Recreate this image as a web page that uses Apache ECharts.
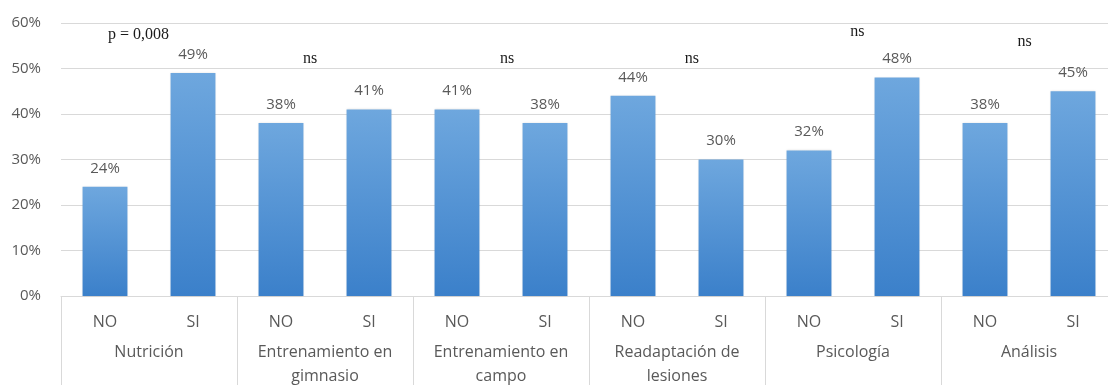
<!DOCTYPE html>
<html>
<head>
<meta charset="utf-8">
<script src="https://cdn.jsdelivr.net/npm/echarts@6/dist/echarts.min.js"></script>
<style>
  html, body { margin: 0; padding: 0; background: #fff; }
  #chart { width: 1108px; height: 385px; }
</style>
</head>
<body>
<div id="chart"></div>
<script>
// Answer per bar (NO / SI) and the area each pair belongs to
const answers = ['NO', 'SI', 'NO', 'SI', 'NO', 'SI', 'NO', 'SI', 'NO', 'SI', 'NO', 'SI'];
const areas = ['Nutrición', 'Entrenamiento en\ngimnasio', 'Entrenamiento en\ncampo',
               'Readaptación de\nlesiones', 'Psicología', 'Análisis'];
// Percentage of respondents for each bar
const percentages = [24, 49, 38, 41, 41, 38, 44, 30, 32, 48, 38, 45];
// Y-axis range (percent)
const yMin = 0, yMax = 60, yStep = 10;
// Significance notes: [text, position in bar slots from the left, height in percent]
const notes = [
  ['p = 0,008', 0.88, 57.4],
  ['ns', 2.83, 52.1],
  ['ns', 5.07, 52.1],
  ['ns', 7.17, 52.1],
  ['ns', 9.05, 58.0],
  ['ns', 10.95, 55.8]
];

const gray = '#595959';
const sans = '"Open Sans", "Noto Sans", sans-serif';
const gridLeft = 61, gridTop = 23, gridWidth = 1056, gridHeight = 273;

const chart = echarts.init(document.getElementById('chart'), null, { renderer: 'canvas' });

chart.setOption({
  animation: false,
  backgroundColor: '#ffffff',
  grid: {
    left: gridLeft, top: gridTop, width: gridWidth, height: gridHeight,
    containLabel: false, outerBoundsMode: 'none'
  },
  xAxis: [
    {
      type: 'category',
      data: answers,
      position: 'bottom',
      axisLine: { show: true, lineStyle: { color: '#d9d9d9', width: 1 } },
      axisTick: { show: false },
      axisLabel: { color: gray, fontFamily: sans, fontSize: 16, margin: 18, interval: 0 }
    },
    {
      type: 'category',
      data: areas,
      position: 'bottom',
      axisLine: { show: false },
      axisTick: { show: true, length: 95, interval: 0, lineStyle: { color: '#d9d9d9', width: 1 } },
      axisLabel: { color: gray, fontFamily: sans, fontSize: 16, lineHeight: 24, margin: 44, interval: 0,
                   verticalAlign: 'top' }
    }
  ],
  yAxis: {
    type: 'value',
    min: yMin, max: yMax, interval: yStep,
    axisLine: { show: false },
    axisTick: { show: false },
    splitLine: { lineStyle: { color: '#d9d9d9', width: 1 } },
    axisLabel: { color: gray, fontFamily: sans, fontSize: 15, margin: 20, formatter: '{value}%' }
  },
  series: [{
    type: 'bar',
    xAxisIndex: 0,
    data: percentages,
    barWidth: '51%',
    itemStyle: {
      color: new echarts.graphic.LinearGradient(0, 0, 0, 1, [
        { offset: 0, color: '#6ea7de' },
        { offset: 1, color: '#3b80ca' }
      ]),
      shadowColor: 'rgba(0,0,0,0.12)',
      shadowBlur: 2
    },
    label: {
      show: true, position: 'top', distance: 11,
      color: gray, fontFamily: sans, fontSize: 15,
      formatter: p => p.value + '%'
    }
  }]
});

// Significance notes drawn above each pair, placed through the chart's own scales
const slotW = gridWidth / answers.length;
chart.setOption({
  graphic: notes.map(([text, slot, pct]) => {
    const y = chart.convertToPixel({ yAxisIndex: 0 }, pct);
    return {
      type: 'text',
      x: gridLeft + slot * slotW,
      y: y,
      style: {
        text: text,
        fill: '#1a1a1a',
        font: '16px "Liberation Serif", "DejaVu Serif", serif',
        align: 'center',
        verticalAlign: 'middle'
      }
    };
  })
});
</script>
</body>
</html>
